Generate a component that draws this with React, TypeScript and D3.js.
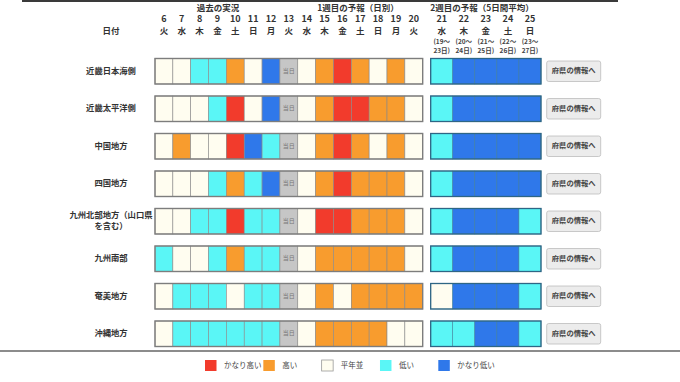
import React from "react";
import * as d3 from "d3";

const regions = [
  "近畿日本海側",
  "近畿太平洋側",
  "中国地方",
  "四国地方",
  "九州北部地方（山口県|を含む）",
  "九州南部",
  "奄美地方",
  "沖縄地方",
];

const days = [6, 7, 8, 9, 10, 11, 12, 13, 14, 15, 16, 17, 18, 19, 20];
const weekdays = ["火", "水", "木", "金", "土", "日", "月", "火", "水", "木", "金", "土", "日", "月", "火"];
const todayDay = 13;

const week2Days = [21, 22, 23, 24, 25];
const week2Weekdays = ["水", "木", "金", "土", "日"];
const week2Ranges = ["(19～|23日)", "(20～|24日)", "(21～|25日)", "(22～|26日)", "(23～|27日)"];

// codes: 2 かなり高い, 1 高い, 0 平年並, -1 低い, -2 かなり低い, null 当日
const week1Values: (number | null)[][] = [
  [0, 0, -1, -1, 1, 0, -2, null, 0, 1, 2, 1, 0, 1, 0],
  [0, 0, 0, -1, 2, 0, -2, null, 0, 1, 2, 2, 1, 1, 0],
  [0, 1, 0, 0, 2, -2, -1, null, 0, 1, 2, 1, 0, 1, 0],
  [0, 0, 0, -1, 1, -1, -2, null, 0, 1, 2, 1, 1, 1, 0],
  [0, 0, -1, -1, 2, -1, -1, null, 0, 2, 2, 1, 1, 1, 0],
  [-1, 0, 0, -1, 1, -1, -1, null, 0, 1, 1, 1, 1, 1, 0],
  [0, -1, -1, -1, 0, -1, -1, null, 0, 1, 0, 1, 1, 1, 1],
  [0, -1, -1, -1, -1, -1, -1, null, 0, 1, 1, 1, 1, 0, 0],
];

const week2Values: number[][] = [
  [-1, -2, -2, -2, -2],
  [-1, -2, -2, -2, -2],
  [-1, -2, -2, -2, -2],
  [-1, -2, -2, -2, -2],
  [-1, -2, -2, -2, -1],
  [-1, -2, -2, -2, -1],
  [0, -2, -2, -2, -1],
  [-1, -1, -2, -2, -1],
];

const legendCodes = [2, 1, 0, -1, -2];
const legendLabels = ["かなり高い", "高い", "平年並", "低い", "かなり低い"];

const colorScale = d3
  .scaleOrdinal<number, string>()
  .domain([2, 1, 0, -1, -2])
  .range(["#f23b2c", "#f89c2e", "#fffdf0", "#5af6f6", "#2f78ea"]);

const FONT = "'Noto Sans CJK JP', 'Noto Sans', sans-serif";

export default function App() {
  const W = 680;
  const H = 382;

  const x1 = d3.scaleBand<number>().domain(days).range([155, 422.7]).padding(0);
  const x2 = d3.scaleBand<number>().domain(week2Days).range([430.7, 541]).padding(0);
  const y = d3
    .scaleBand<string>()
    .domain(regions)
    .range([52.5, 352.5])
    .paddingInner(0.32)
    .paddingOuter(0.16);

  const legendX = d3.scalePoint<number>().domain(legendCodes).range([205, 438.3]);

  const bw1 = x1.bandwidth();
  const bw2 = x2.bandwidth();
  const bh = y.bandwidth();

  return (
    <svg
      width={W}
      height={H}
      style={{ position: "absolute", left: 0, top: 0, background: "#fff" }}
      fontFamily={FONT}
    >
      <rect x={0} y={0} width={W} height={H} fill="#fff" />
      <rect x={22} y={0} width={596} height={2} fill="#3a3a3a" />

      {/* Section headers */}
      <text x={218} y={9} textAnchor="middle" dominantBaseline="middle" fontSize={8.5} fontWeight="bold" fill="#333">
        過去の実況
      </text>
      <text x={358} y={9} textAnchor="middle" dominantBaseline="middle" fontSize={8.5} fontWeight="bold" fill="#333">
        1週目の予報（日別）
      </text>
      <text x={482} y={9} textAnchor="middle" dominantBaseline="middle" fontSize={8.5} fontWeight="bold" fill="#333">
        2週目の予報（5日間平均）
      </text>
      <text x={111} y={32} textAnchor="middle" dominantBaseline="middle" fontSize={8.5} fontWeight="bold" fill="#333">
        日付
      </text>

      {days.map((d, i) => (
        <g key={"h" + d}>
          <text x={x1(d)! + bw1 / 2} y={20} textAnchor="middle" dominantBaseline="middle" fontSize={9} fontWeight="bold" fill="#333">
            {d}
          </text>
          <text x={x1(d)! + bw1 / 2} y={32} textAnchor="middle" dominantBaseline="middle" fontSize={8.5} fontWeight="bold" fill="#333">
            {weekdays[i]}
          </text>
        </g>
      ))}
      {week2Days.map((d, i) => {
        const cx = x2(d)! + bw2 / 2;
        const [r1, r2] = week2Ranges[i].split("|");
        return (
          <g key={"h2" + d}>
            <text x={cx} y={20} textAnchor="middle" dominantBaseline="middle" fontSize={9} fontWeight="bold" fill="#333">
              {d}
            </text>
            <text x={cx} y={32} textAnchor="middle" dominantBaseline="middle" fontSize={8.5} fontWeight="bold" fill="#333">
              {week2Weekdays[i]}
            </text>
            <text x={cx} y={42.5} textAnchor="middle" dominantBaseline="middle" fontSize={6.5} fontWeight="bold" fill="#444">
              {r1}
            </text>
            <text x={cx} y={51} textAnchor="middle" dominantBaseline="middle" fontSize={6.5} fontWeight="bold" fill="#444">
              {r2}
            </text>
          </g>
        );
      })}

      {regions.map((r, ri) => {
        const y0 = y(r)!;
        const lines = r.split("|");
        return (
          <g key={r}>
            {lines.map((ln, li) => (
              <text
                key={li}
                x={111}
                y={y0 + bh / 2 + (li - (lines.length - 1) / 2) * 11}
                textAnchor="middle"
                dominantBaseline="middle"
                fontSize={8.3}
                fontWeight="bold"
                fill="#333"
              >
                {ln}
              </text>
            ))}
            {days.map((d, di) => {
              const v = week1Values[ri][di];
              const isToday = d === todayDay;
              return (
                <g key={d}>
                  <rect
                    x={x1(d)!}
                    y={y0}
                    width={bw1}
                    height={bh}
                    fill={isToday || v === null ? "#c6c6c6" : colorScale(v)}
                    stroke="#8a8a8a"
                    strokeWidth={0.6}
                  />
                  {isToday && (
                    <text
                      x={x1(d)! + bw1 / 2}
                      y={y0 + bh / 2}
                      textAnchor="middle"
                      dominantBaseline="middle"
                      fontSize={6}
                      fill="#777"
                    >
                      当日
                    </text>
                  )}
                </g>
              );
            })}
            <rect x={155} y={y0} width={422.7 - 155} height={bh} fill="none" stroke="#7d7d7d" strokeWidth={1.4} />
            {week2Days.map((d, di) => (
              <rect
                key={"w2" + d}
                x={x2(d)!}
                y={y0}
                width={bw2}
                height={bh}
                fill={colorScale(week2Values[ri][di])}
                stroke="#3f7d9a"
                strokeWidth={0.5}
              />
            ))}
            <rect x={430.7} y={y0} width={541 - 430.7} height={bh} fill="none" stroke="#2e6685" strokeWidth={1.3} />
            <rect x={546.7} y={y0 + 2.5} width={54} height={20.5} rx={2} fill="#ececec" stroke="#bdbdbd" strokeWidth={0.8} />
            <text
              x={546.7 + 27}
              y={y0 + 2.5 + 10.5}
              textAnchor="middle"
              dominantBaseline="middle"
              fontSize={7.3}
              fontWeight="bold"
              fill="#444"
            >
              府県の情報へ
            </text>
          </g>
        );
      })}

      <rect x={0} y={350} width={W} height={2} fill="#8c8c8c" />

      {legendCodes.map((c, i) => (
        <g key={"lg" + c}>
          <rect
            x={legendX(c)!}
            y={360}
            width={11.5}
            height={11}
            fill={colorScale(c)}
            stroke={c === 0 ? "#999" : "none"}
            strokeWidth={0.8}
          />
          <text
            x={legendX(c)! + 19}
            y={366}
            dominantBaseline="middle"
            fontSize={7.5}
            fill="#444"
          >
            {legendLabels[i]}
          </text>
        </g>
      ))}
    </svg>
  );
}
